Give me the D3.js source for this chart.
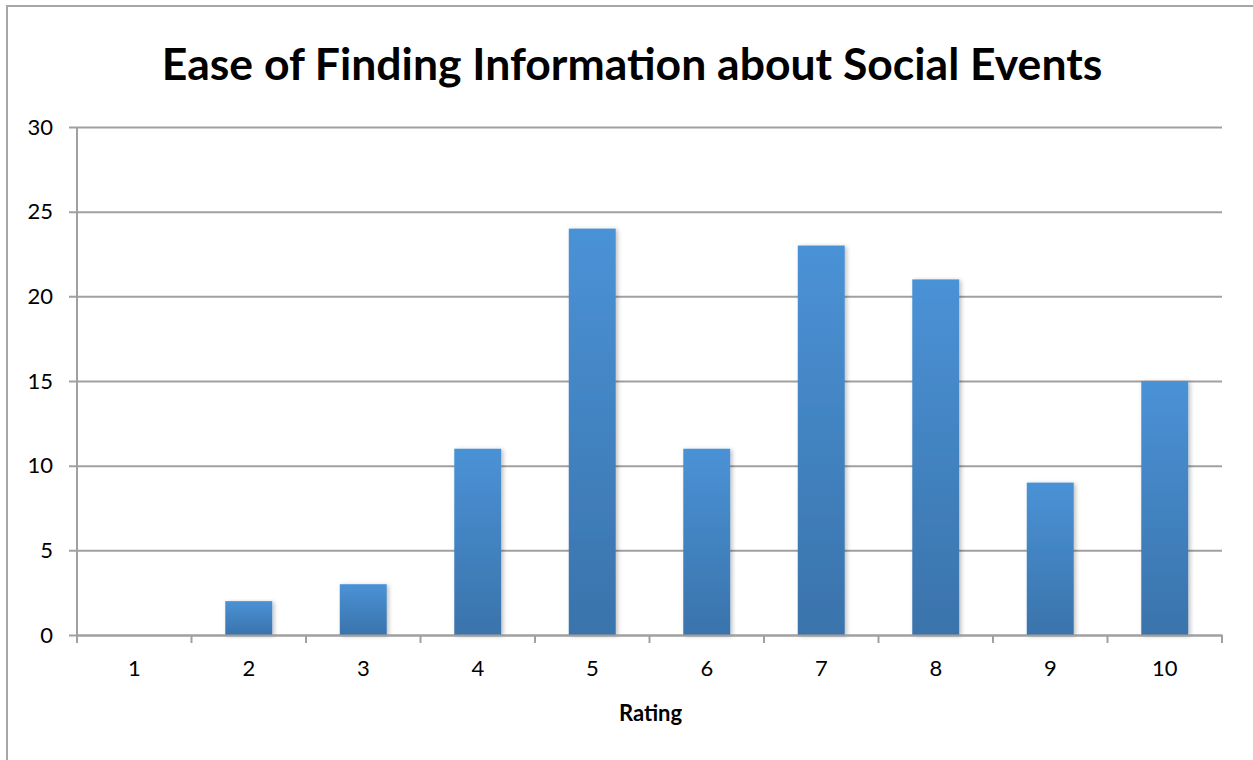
<!DOCTYPE html>
<html><head><meta charset="utf-8">
<script src="https://cdn.jsdelivr.net/npm/d3@7"></script>
<style>body{margin:0;background:#fff}svg{display:block}</style>
</head><body>
<svg id="c" width="1253" height="760"></svg>
<script>
const categories = ["1","2","3","4","5","6","7","8","9","10"];
const values = [0,2,3,11,24,11,23,21,9,15];
const yTicks = [0,5,10,15,20,25,30];
const title = "Ease of Finding Information about Social Events";
const xTitle = "Rating";

const svg = d3.select("#c");
const W = 1253, H = 760;
const m = {l:77, r:31, t:127, b:125};
const iw = W - m.l - m.r, ih = H - m.t - m.b;

svg.append("rect").attr("x",7).attr("y",6).attr("width",1260).attr("height",770)
  .attr("fill","#fff").attr("stroke","#a6a6a6").attr("stroke-width",2);

const defs = svg.append("defs");
const grad = defs.append("linearGradient").attr("id","g").attr("x1",0).attr("y1",0).attr("x2",0).attr("y2",1);
grad.append("stop").attr("offset","0%").attr("stop-color","#4a92d6");
grad.append("stop").attr("offset","100%").attr("stop-color","#3a73ab");
const f = defs.append("filter").attr("id","sh").attr("x","-20%").attr("y","-5%").attr("width","150%").attr("height","115%");
f.append("feDropShadow").attr("dx",2).attr("dy",1).attr("stdDeviation",2).attr("flood-color","#000").attr("flood-opacity",0.25);

const x = d3.scaleBand().domain(categories).range([0, iw]).paddingInner(0.59).paddingOuter(0.295);
const xb = d3.scaleBand().domain(categories).range([0, iw]);
const y = d3.scaleLinear().domain([0,30]).range([ih,0]);

const g = svg.append("g").attr("transform",`translate(${m.l},${m.t})`);

const font = "Lato, 'Open Sans', sans-serif";

// gridlines + y axis
const ya = g.append("g").call(d3.axisLeft(y).tickValues(yTicks).tickSize(-iw).tickSizeOuter(0).tickPadding(20));
ya.select(".domain").remove();
ya.selectAll(".tick line").attr("stroke","#a0a0a0").attr("stroke-width",2).attr("x1",-8);
ya.selectAll(".tick text").attr("font-family",font).attr("font-size",22).attr("fill","#000").attr("text-anchor","end").attr("dx",-4);
g.append("line").attr("x1",0).attr("x2",0).attr("y1",0).attr("y2",ih+8).attr("stroke","#a0a0a0").attr("stroke-width",2);

// bars
g.selectAll("rect.bar").data(values).join("rect").attr("class","bar")
  .attr("x",(d,i)=>x(categories[i])).attr("width",x.bandwidth())
  .attr("y",d=>y(d)).attr("height",d=>ih-y(d))
  .attr("fill","url(#g)").attr("filter","url(#sh)")
  .style("display",d=>d>0?null:"none");

// x axis
const xa = g.append("g").attr("transform",`translate(0,${ih})`).call(d3.axisBottom(xb).tickSize(0).tickPadding(25));
xa.select(".domain").attr("stroke","#a0a0a0").attr("stroke-width",2);
xa.selectAll(".tick text").attr("font-family",font).attr("font-size",22).attr("fill","#000");
g.selectAll("line.xt").data(d3.range(categories.length+1)).join("line").attr("class","xt")
  .attr("x1",i=>i*xb.step()).attr("x2",i=>i*xb.step()).attr("y1",ih).attr("y2",ih+8)
  .attr("stroke","#a0a0a0").attr("stroke-width",2);

svg.append("text").attr("x",632).attr("y",80).attr("text-anchor","middle")
  .attr("font-family",font).attr("font-weight","bold").attr("font-size",44.5).text(title);
svg.append("text").attr("x",m.l+iw/2+1).attr("y",721).attr("text-anchor","middle")
  .attr("font-family",font).attr("font-weight","bold").attr("font-size",22).text(xTitle);
</script>
</body></html>
